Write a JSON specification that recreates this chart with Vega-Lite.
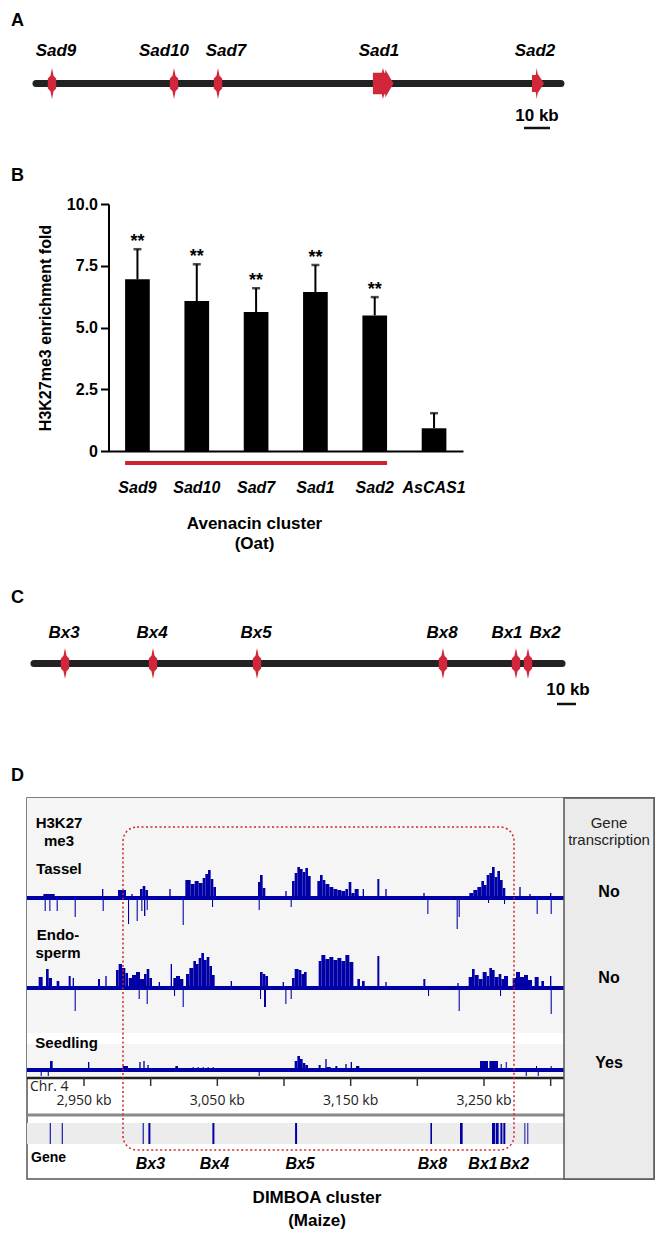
{
  "$schema": "https://vega.github.io/schema/vega-lite/v6.json",
  "padding": {"left": 10, "top": 11, "right": 4, "bottom": 4},
  "background": "white",
  "config": {
    "font": "Liberation Sans",
    "view": {"stroke": null},
    "axis": {"grid": false},
    "title": {"fontSize": 18, "fontWeight": "bold", "anchor": "start", "frame": "group", "dx": -16, "color": "black", "baseline": "top"},
    "text": {"color": "black"}
  },
  "datasets": {
    "oatGenes": [
      {"gene": "Sad9", "pos": 6.15},
      {"gene": "Sad10", "pos": 53.08},
      {"gene": "Sad7", "pos": 70.0},
      {"gene": "Sad1", "pos": 133.46},
      {"gene": "Sad2", "pos": 193.08}
    ],
    "bxGenes": [
      {"gene": "Bx3", "pos": 16.32},
      {"gene": "Bx4", "pos": 62.63},
      {"gene": "Bx5", "pos": 117.37},
      {"gene": "Bx8", "pos": 215.26},
      {"gene": "Bx1", "pos": 253.68},
      {"gene": "Bx2", "pos": 260.0}
    ],
    "enrichment": [
      {"gene": "Sad9", "fold": 6.95, "upper": 8.17, "sig": "**"},
      {"gene": "Sad10", "fold": 6.07, "upper": 7.56, "sig": "**"},
      {"gene": "Sad7", "fold": 5.63, "upper": 6.59, "sig": "**"},
      {"gene": "Sad1", "fold": 6.44, "upper": 7.53, "sig": "**"},
      {"gene": "Sad2", "fold": 5.49, "upper": 6.23, "sig": "**"},
      {"gene": "AsCAS1", "fold": 0.92, "upper": 1.53, "sig": ""}
    ],
    "chrTicks": [
      {"kb": 2950}, {"kb": 3000}, {"kb": 3050}, {"kb": 3100},
      {"kb": 3150}, {"kb": 3200}, {"kb": 3250}, {"kb": 3300}
    ],
    "tassel": [
      {"start": 2919.5, "end": 2928, "signal": 4},
      {"start": 2920.5, "end": 2921.3, "signal": -13},
      {"start": 2924, "end": 2924.8, "signal": -13},
      {"start": 2929.5, "end": 2930.3, "signal": -13},
      {"start": 2943, "end": 2943.8, "signal": -19},
      {"start": 2963.5, "end": 2964.5, "signal": 9},
      {"start": 2964, "end": 2964.8, "signal": -13},
      {"start": 2975.5, "end": 2981.5, "signal": 8},
      {"start": 2983, "end": 2983.8, "signal": -26},
      {"start": 2985.5, "end": 2986.5, "signal": 4},
      {"start": 2989.5, "end": 2990.3, "signal": -23},
      {"start": 2992, "end": 2994, "signal": 9},
      {"start": 2994, "end": 2996, "signal": 12},
      {"start": 2996, "end": 2998, "signal": 8},
      {"start": 2993, "end": 2993.8, "signal": -13},
      {"start": 2995, "end": 2996, "signal": -18},
      {"start": 2997, "end": 2997.8, "signal": -12},
      {"start": 3014, "end": 3015, "signal": 9},
      {"start": 3024, "end": 3024.8, "signal": -27},
      {"start": 3026, "end": 3030, "signal": 18},
      {"start": 3030, "end": 3033, "signal": 14},
      {"start": 3033, "end": 3036, "signal": 17},
      {"start": 3036, "end": 3039, "signal": 15},
      {"start": 3039, "end": 3041, "signal": 20},
      {"start": 3041, "end": 3043, "signal": 24},
      {"start": 3043, "end": 3045, "signal": 28},
      {"start": 3045, "end": 3047, "signal": 19},
      {"start": 3047, "end": 3049, "signal": 11},
      {"start": 3046, "end": 3046.8, "signal": -9},
      {"start": 3080.5, "end": 3082, "signal": 16},
      {"start": 3082, "end": 3084, "signal": 23},
      {"start": 3084, "end": 3086, "signal": 10},
      {"start": 3081, "end": 3081.8, "signal": -12},
      {"start": 3101, "end": 3102, "signal": 7},
      {"start": 3105, "end": 3105.8, "signal": -9},
      {"start": 3106, "end": 3108, "signal": 17},
      {"start": 3108, "end": 3110, "signal": 25},
      {"start": 3110, "end": 3112, "signal": 31},
      {"start": 3112, "end": 3114, "signal": 29},
      {"start": 3114, "end": 3116, "signal": 26},
      {"start": 3116, "end": 3118, "signal": 30},
      {"start": 3118, "end": 3120, "signal": 22},
      {"start": 3125, "end": 3127, "signal": 17},
      {"start": 3127, "end": 3129, "signal": 23},
      {"start": 3129, "end": 3131, "signal": 18},
      {"start": 3131, "end": 3134, "signal": 14},
      {"start": 3134, "end": 3137, "signal": 11},
      {"start": 3137, "end": 3140, "signal": 9},
      {"start": 3140, "end": 3143, "signal": 8},
      {"start": 3143, "end": 3146, "signal": 7},
      {"start": 3146, "end": 3148, "signal": 9},
      {"start": 3148.5, "end": 3150.5, "signal": 16},
      {"start": 3150.5, "end": 3153, "signal": 5},
      {"start": 3153, "end": 3156, "signal": 9},
      {"start": 3159, "end": 3160, "signal": 9},
      {"start": 3170, "end": 3171.5, "signal": 19},
      {"start": 3176, "end": 3177, "signal": 9},
      {"start": 3204.5, "end": 3205.5, "signal": 5},
      {"start": 3207.5, "end": 3208.3, "signal": -16},
      {"start": 3229.5, "end": 3230.3, "signal": -31},
      {"start": 3231, "end": 3231.8, "signal": -19},
      {"start": 3239, "end": 3242, "signal": 5},
      {"start": 3242, "end": 3245, "signal": 8},
      {"start": 3245, "end": 3248, "signal": 11},
      {"start": 3248, "end": 3250, "signal": 17},
      {"start": 3250, "end": 3252, "signal": 13},
      {"start": 3252, "end": 3254, "signal": 23},
      {"start": 3254, "end": 3256, "signal": 25},
      {"start": 3256, "end": 3258, "signal": 31},
      {"start": 3258, "end": 3260, "signal": 21},
      {"start": 3260, "end": 3262, "signal": 27},
      {"start": 3262, "end": 3264, "signal": 18},
      {"start": 3264, "end": 3266, "signal": 10},
      {"start": 3253, "end": 3253.8, "signal": -5},
      {"start": 3265, "end": 3265.8, "signal": -6},
      {"start": 3276.5, "end": 3277.5, "signal": 11},
      {"start": 3284, "end": 3285, "signal": 4},
      {"start": 3289.5, "end": 3290.3, "signal": -16},
      {"start": 3299.5, "end": 3300.5, "signal": 5},
      {"start": 3300, "end": 3300.8, "signal": -16}
    ],
    "endosperm": [
      {"start": 2916, "end": 2919, "signal": 11},
      {"start": 2921.5, "end": 2923.5, "signal": 19},
      {"start": 2923.5, "end": 2926, "signal": 10},
      {"start": 2929.5, "end": 2931.5, "signal": 7},
      {"start": 2938.5, "end": 2940, "signal": 12},
      {"start": 2941.5, "end": 2942.5, "signal": 10},
      {"start": 2960.5, "end": 2962, "signal": 9},
      {"start": 2966, "end": 2967, "signal": 12},
      {"start": 2974, "end": 2976, "signal": 18},
      {"start": 2976, "end": 2978.5, "signal": 24},
      {"start": 2978.5, "end": 2981, "signal": 20},
      {"start": 2981, "end": 2983, "signal": 15},
      {"start": 2983.5, "end": 2986, "signal": 10},
      {"start": 2986, "end": 2989, "signal": 13},
      {"start": 2989, "end": 2992, "signal": 16},
      {"start": 2992, "end": 2995, "signal": 9},
      {"start": 2995, "end": 2997, "signal": 14},
      {"start": 2997, "end": 2999, "signal": 19},
      {"start": 2999, "end": 3001, "signal": 10},
      {"start": 3006, "end": 3007, "signal": 6},
      {"start": 3015, "end": 3016, "signal": 24},
      {"start": 3017, "end": 3019, "signal": 10},
      {"start": 3019, "end": 3022, "signal": 12},
      {"start": 3022, "end": 3024.5, "signal": 9},
      {"start": 3026.5, "end": 3029, "signal": 14},
      {"start": 3029, "end": 3032, "signal": 20},
      {"start": 3032, "end": 3034, "signal": 27},
      {"start": 3034, "end": 3036, "signal": 24},
      {"start": 3036, "end": 3038, "signal": 30},
      {"start": 3038, "end": 3040, "signal": 35},
      {"start": 3040, "end": 3042, "signal": 28},
      {"start": 3042, "end": 3044, "signal": 31},
      {"start": 3044, "end": 3046, "signal": 22},
      {"start": 3046, "end": 3048, "signal": 13},
      {"start": 3060, "end": 3061, "signal": 7},
      {"start": 3082, "end": 3084, "signal": 16},
      {"start": 3084, "end": 3086, "signal": 14},
      {"start": 3086, "end": 3088, "signal": 12},
      {"start": 3099, "end": 3100, "signal": 6},
      {"start": 3106, "end": 3108, "signal": 10},
      {"start": 3108, "end": 3111, "signal": 19},
      {"start": 3111, "end": 3113, "signal": 18},
      {"start": 3113, "end": 3115, "signal": 14},
      {"start": 3115, "end": 3117, "signal": 16},
      {"start": 3126, "end": 3128, "signal": 27},
      {"start": 3128, "end": 3131, "signal": 33},
      {"start": 3131, "end": 3134, "signal": 29},
      {"start": 3134, "end": 3137, "signal": 31},
      {"start": 3137, "end": 3140, "signal": 28},
      {"start": 3140, "end": 3143, "signal": 30},
      {"start": 3143, "end": 3146, "signal": 27},
      {"start": 3146, "end": 3149, "signal": 33},
      {"start": 3149, "end": 3152, "signal": 26},
      {"start": 3155, "end": 3157, "signal": 9},
      {"start": 3158.5, "end": 3160.5, "signal": 7},
      {"start": 3170, "end": 3171.5, "signal": 32},
      {"start": 3176, "end": 3177, "signal": 6},
      {"start": 3204.5, "end": 3206, "signal": 9},
      {"start": 3230, "end": 3231, "signal": 5},
      {"start": 3238.5, "end": 3241, "signal": 11},
      {"start": 3241, "end": 3243, "signal": 19},
      {"start": 3243, "end": 3246, "signal": 13},
      {"start": 3246, "end": 3249, "signal": 9},
      {"start": 3249, "end": 3252, "signal": 16},
      {"start": 3252, "end": 3254, "signal": 12},
      {"start": 3254, "end": 3256, "signal": 20},
      {"start": 3256, "end": 3258, "signal": 18},
      {"start": 3258, "end": 3261, "signal": 11},
      {"start": 3261, "end": 3263, "signal": 14},
      {"start": 3263, "end": 3265, "signal": 9},
      {"start": 3265, "end": 3268, "signal": 12},
      {"start": 3271.5, "end": 3274, "signal": 10},
      {"start": 3274, "end": 3277, "signal": 16},
      {"start": 3277, "end": 3280, "signal": 11},
      {"start": 3280, "end": 3283, "signal": 13},
      {"start": 3283, "end": 3286, "signal": 8},
      {"start": 3288, "end": 3291, "signal": 11},
      {"start": 3293, "end": 3295, "signal": 7},
      {"start": 3299.5, "end": 3300.5, "signal": 12},
      {"start": 2943, "end": 2943.8, "signal": -23},
      {"start": 2991, "end": 2991.8, "signal": -11},
      {"start": 2997, "end": 2997.8, "signal": -16},
      {"start": 3017.5, "end": 3018.3, "signal": -8},
      {"start": 3024, "end": 3024.8, "signal": -19},
      {"start": 3082, "end": 3082.8, "signal": -11},
      {"start": 3085, "end": 3086.5, "signal": -19},
      {"start": 3101, "end": 3101.8, "signal": -16},
      {"start": 3105, "end": 3105.8, "signal": -11},
      {"start": 3208, "end": 3208.8, "signal": -8},
      {"start": 3231, "end": 3231.8, "signal": -23},
      {"start": 3262, "end": 3262.8, "signal": -8},
      {"start": 3300, "end": 3300.8, "signal": -26}
    ],
    "seedling": [
      {"start": 2917.5, "end": 2918.3, "signal": -6},
      {"start": 2922.8, "end": 2923.6, "signal": -6},
      {"start": 2924.5, "end": 2926.5, "signal": 9},
      {"start": 2953, "end": 2954, "signal": 8},
      {"start": 2979, "end": 2983, "signal": 4},
      {"start": 2991.5, "end": 2992.5, "signal": 8},
      {"start": 2994.5, "end": 2995.5, "signal": 9},
      {"start": 2997.5, "end": 2998.5, "signal": 5},
      {"start": 3018.5, "end": 3020.5, "signal": 4},
      {"start": 3031.5, "end": 3032.3, "signal": 3},
      {"start": 3035.2, "end": 3036, "signal": 3},
      {"start": 3039, "end": 3039.8, "signal": 3},
      {"start": 3042.7, "end": 3043.5, "signal": 3},
      {"start": 3046.5, "end": 3047.3, "signal": 3},
      {"start": 3081, "end": 3081.8, "signal": -6},
      {"start": 3108, "end": 3110, "signal": 9},
      {"start": 3110, "end": 3112, "signal": 14},
      {"start": 3112, "end": 3114, "signal": 11},
      {"start": 3114, "end": 3116, "signal": 7},
      {"start": 3116, "end": 3118, "signal": 5},
      {"start": 3126, "end": 3127.5, "signal": 5},
      {"start": 3131, "end": 3132, "signal": 11},
      {"start": 3132, "end": 3135, "signal": 3},
      {"start": 3138.5, "end": 3140, "signal": 4},
      {"start": 3146, "end": 3147, "signal": 6},
      {"start": 3150, "end": 3151, "signal": 8},
      {"start": 3154, "end": 3156.5, "signal": 4},
      {"start": 3247, "end": 3253, "signal": 9},
      {"start": 3254, "end": 3260.5, "signal": 9},
      {"start": 3262.5, "end": 3263.3, "signal": 6},
      {"start": 3266.3, "end": 3267.1, "signal": 8},
      {"start": 3281.3, "end": 3282.1, "signal": -6},
      {"start": 3289, "end": 3289.8, "signal": 4},
      {"start": 3290.3, "end": 3291.1, "signal": -6},
      {"start": 3300, "end": 3300.8, "signal": 4}
    ],
    "maizeGenes": [
      {"track": "Gene", "start": 2924.3, "end": 2925.1, "label": ""},
      {"track": "Gene", "start": 2933.3, "end": 2934.1, "label": ""},
      {"track": "Gene", "start": 2994.0, "end": 2994.8, "label": ""},
      {"track": "Gene", "start": 2998.3, "end": 2999.8, "label": "Bx3"},
      {"track": "Gene", "start": 3046.3, "end": 3047.8, "label": "Bx4"},
      {"track": "Gene", "start": 3108.3, "end": 3109.8, "label": "Bx5"},
      {"track": "Gene", "start": 3209.8, "end": 3211.0, "label": "Bx8"},
      {"track": "Gene", "start": 3232.0, "end": 3234.0, "label": ""},
      {"track": "Gene", "start": 3256.0, "end": 3258.3, "label": "Bx1"},
      {"track": "Gene", "start": 3258.8, "end": 3261.0, "label": ""},
      {"track": "Gene", "start": 3262.3, "end": 3263.8, "label": "Bx2"},
      {"track": "Gene", "start": 3264.5, "end": 3266.0, "label": ""},
      {"track": "Gene", "start": 3280.3, "end": 3281.0, "label": ""},
      {"track": "Gene", "start": 3282.5, "end": 3283.2, "label": ""}
    ],
    "transcription": [
      {"tissue": "Tassel", "transcription": "No"},
      {"tissue": "Endosperm", "transcription": "No"},
      {"tissue": "Seedling", "transcription": "Yes"}
    ]
  },
  "bounds": "flush",
  "spacing": 105,
  "vconcat": [
    {
      "width": 635,
      "height": 31,
      "title": {"text": "A", "offset": 12.5},
      "layer": [
        {
          "data": {"values": [{"pos": 0, "end": 201.9}]},
          "mark": {"type": "rule", "color": "#222222", "strokeWidth": 7, "strokeCap": "round"},
          "encoding": {
            "x": {"field": "pos", "type": "quantitative", "scale": {"domain": [-3.4615, 240.77], "nice": false, "zero": false},
              "axis": {"orient": "bottom", "domain": false, "ticks": false, "labels": false, "title": ["Avenacin cluster", "(Oat)"], "titleX": 261, "titleY": 20.5, "titleBaseline": "top", "titleAlign": "center", "titleFontSize": 17, "titleFontWeight": "bold", "titleColor": "black", "titleLineHeight": 18}},
            "x2": {"field": "end"}
          }
        },
        {
          "data": {"name": "oatGenes"},
          "mark": {"type": "point", "filled": true, "opacity": 1, "color": "#d0273b", "size": 961},
          "encoding": {
            "x": {"field": "pos", "type": "quantitative", "axis": null},
            "shape": {"field": "gene", "type": "nominal", "legend": null,
              "scale": {"domain": ["Sad9", "Sad10", "Sad7", "Sad1", "Sad2"],
                "range": [
                  "M0,-1L0.1,-0.5L0.27,-0.32L0.27,0.32L0.1,0.5L0,1L-0.1,0.5L-0.27,0.32L-0.27,-0.32L-0.1,-0.5Z",
                  "M0,-1L0.1,-0.5L0.27,-0.32L0.27,0.32L0.1,0.5L0,1L-0.1,0.5L-0.27,0.32L-0.27,-0.32L-0.1,-0.5Z",
                  "M0,-1L0.1,-0.5L0.27,-0.32L0.27,0.32L0.1,0.5L0,1L-0.1,0.5L-0.27,0.32L-0.27,-0.32L-0.1,-0.5Z",
                  "M-0.65,-0.7L-0.08,-0.7L0,-1L0.08,-0.7L0.15,-0.7L0.15,-0.9L0.68,0L0.15,0.9L0.15,0.7L0.08,0.7L0,1L-0.08,0.7L-0.65,0.7Z",
                  "M-0.39,-0.55L-0.15,-0.55L-0.08,-1L-0.01,-0.55L0,-0.6L0.39,0L0,0.6L-0.01,0.55L-0.08,1L-0.15,0.55L-0.39,0.55Z"
                ]}}
          }
        },
        {
          "data": {"name": "oatGenes"},
          "mark": {"type": "text", "fontSize": 17, "fontWeight": "bold", "fontStyle": "italic", "dy": -32.5,
            "dx": {"expr": "datum.gene === 'Sad9' ? 4 : datum.gene === 'Sad10' ? -10 : datum.gene === 'Sad7' ? 8 : datum.gene === 'Sad1' ? -4 : -3"}},
          "encoding": {
            "x": {"field": "pos", "type": "quantitative", "axis": null},
            "text": {"field": "gene"}
          }
        },
        {
          "data": {"values": [{"pos": 187.69, "end": 197.69, "label": "10 kb"}]},
          "layer": [
            {
              "mark": {"type": "rule", "color": "#111111", "strokeWidth": 2.5, "yOffset": 44.5},
              "encoding": {"x": {"field": "pos", "type": "quantitative", "axis": null}, "x2": {"field": "end"}}
            },
            {
              "mark": {"type": "text", "fontSize": 17, "fontWeight": "bold", "dx": 13, "dy": 32.5},
              "encoding": {"x": {"field": "pos", "type": "quantitative", "axis": null}, "text": {"field": "label"}}
            }
          ]
        }
      ]
    },
    {
      "bounds": "flush",
      "spacing": 197,
      "vconcat": [
        {
          "width": 635,
          "height": 247,
          "title": {"text": "B", "offset": 11},
          "data": {"name": "enrichment"},
          "encoding": {
            "x": {"field": "gene", "type": "nominal", "sort": null,
              "scale": {"domain": ["Sad9", "Sad10", "Sad7", "Sad1", "Sad2", "AsCAS1"], "range": [81.5, 436], "paddingInner": 0.584, "paddingOuter": 0.28},
              "axis": {"orient": "bottom", "domainColor": "black", "domainWidth": 2, "ticks": false, "tickSize": 0, "labelAngle": 0, "labelPadding": 28, "labelFontSize": 16, "labelFontWeight": "bold", "labelFontStyle": "italic", "labelColor": "black",
                "title": ["Avenacin cluster", "(Oat)"], "titleX": 227, "titleY": 64, "titleBaseline": "top", "titleAlign": "center", "titleFontSize": 17, "titleFontWeight": "bold", "titleColor": "black", "titleLineHeight": 20}}
          },
          "layer": [
            {
              "mark": {"type": "bar", "color": "black"},
              "encoding": {
                "y": {"field": "fold", "type": "quantitative", "scale": {"domain": [0, 10], "nice": false},
                  "axis": {"orient": "left", "offset": -81.5, "values": [0, 2.5, 5, 7.5, 10], "labelExpr": "datum.value == 0 ? '0' : format(datum.value, '.1f')", "domainColor": "black", "domainWidth": 2, "tickColor": "black", "tickWidth": 2, "tickSize": 8, "labelFontSize": 16, "labelFontWeight": "bold", "labelColor": "black", "labelPadding": 3,
                    "title": "H3K27me3 enrichment fold", "titleFontSize": 16, "titleFontWeight": "bold", "titleColor": "black", "titlePadding": 13}}
              }
            },
            {
              "mark": {"type": "rule", "color": "black", "strokeWidth": 2},
              "encoding": {"y": {"field": "fold", "type": "quantitative"}, "y2": {"field": "upper"}}
            },
            {
              "mark": {"type": "tick", "orient": "horizontal", "color": "black", "size": 8, "thickness": 2.5},
              "encoding": {"y": {"field": "upper", "type": "quantitative"}}
            },
            {
              "mark": {"type": "text", "fontSize": 18, "fontWeight": "bold", "baseline": "alphabetic", "dy": -2},
              "encoding": {"y": {"field": "upper", "type": "quantitative"}, "text": {"field": "sig"}}
            },
            {
              "data": {"values": [{"from": "Sad9", "to": "Sad2"}]},
              "mark": {"type": "rule", "color": "#c9252f", "strokeWidth": 4, "yOffset": 12},
              "encoding": {
                "x": {"field": "from", "type": "nominal", "bandPosition": 0},
                "x2": {"field": "to", "bandPosition": 1},
                "y": {"datum": 0, "type": "quantitative"}
              }
            }
          ]
        },
        {
          "bounds": "flush",
          "spacing": 119,
          "vconcat": [
            {
              "width": 635,
              "height": 31,
              "title": {"text": "C", "offset": 17.5},
              "layer": [
                {
                  "data": {"values": [{"pos": 0, "end": 277.9}]},
                  "mark": {"type": "rule", "color": "#222222", "strokeWidth": 7, "strokeCap": "round"},
                  "encoding": {
                    "x": {"field": "pos", "type": "quantitative", "scale": {"domain": [-3.684, 330.53], "nice": false, "zero": false},
                      "axis": {"orient": "bottom", "domain": false, "ticks": false, "labels": false, "title": ["DIMBOA cluster", "(Maize)"], "titleX": 290, "titleY": 16.5, "titleBaseline": "top", "titleAlign": "center", "titleFontSize": 17, "titleFontWeight": "bold", "titleColor": "black", "titleLineHeight": 22}},
                    "x2": {"field": "end"}
                  }
                },
                {
                  "data": {"name": "bxGenes"},
                  "mark": {"type": "point", "filled": true, "opacity": 1, "color": "#d0273b", "size": 961,
                    "shape": "M0,-1L0.1,-0.5L0.27,-0.32L0.27,0.32L0.1,0.5L0,1L-0.1,0.5L-0.27,0.32L-0.27,-0.32L-0.1,-0.5Z"},
                  "encoding": {"x": {"field": "pos", "type": "quantitative", "axis": null}}
                },
                {
                  "data": {"name": "bxGenes"},
                  "mark": {"type": "text", "fontSize": 17, "fontWeight": "bold", "fontStyle": "italic", "dy": -30.5,
                    "dx": {"expr": "datum.gene === 'Bx1' ? -9 : datum.gene === 'Bx2' ? 17 : -1"}},
                  "encoding": {"x": {"field": "pos", "type": "quantitative", "axis": null}, "text": {"field": "gene"}}
                },
                {
                  "data": {"values": [{"pos": 275.26, "end": 285.26, "label": "10 kb"}]},
                  "layer": [
                    {
                      "mark": {"type": "rule", "color": "#111111", "strokeWidth": 2.5, "yOffset": 40.5},
                      "encoding": {"x": {"field": "pos", "type": "quantitative", "axis": null}, "x2": {"field": "end"}}
                    },
                    {
                      "mark": {"type": "text", "fontSize": 17, "fontWeight": "bold", "dx": 11, "dy": 26.5},
                      "encoding": {"x": {"field": "pos", "type": "quantitative", "axis": null}, "text": {"field": "label"}}
                    }
                  ]
                }
              ]
            },
            {
              "width": 627,
              "height": 381,
              "title": {"text": "D", "offset": 12},
              "view": {"fill": "white", "stroke": "#555555", "strokeWidth": 1.5},
              "layer": [
                {
                  "layer": [
                    {
                      "layer": [
                        {
                          "data": {"values": [{}]},
                          "mark": {"type": "rect", "color": "#f5f5f5"},
                          "encoding": {"y": {"datum": 100, "type": "quantitative", "scale": {"domain": [-281, 100], "nice": false, "zero": false}, "axis": null}, "y2": {"datum": -180}}
                        },
                        {
                          "data": {"name": "tassel"},
                          "mark": {"type": "rect", "color": "#0000a6"},
                          "encoding": {
                            "x": {"field": "start", "type": "quantitative", "scale": {"domain": [2907.25, 3310], "range": [0, 537], "nice": false, "zero": false}, "axis": null},
                            "x2": {"field": "end"},
                            "y": {"field": "signal", "type": "quantitative", "axis": null},
                            "y2": {"datum": 0}
                          }
                        },
                        {
                          "data": {"values": [{}]},
                          "mark": {"type": "rule", "color": "#0000a6", "strokeWidth": 4},
                          "encoding": {"y": {"datum": 0, "type": "quantitative", "axis": null}}
                        },
                        {
                          "data": {"values": [{}]},
                          "mark": {"type": "text", "text": "H3K27", "fontSize": 15, "fontWeight": "bold", "align": "center"},
                          "encoding": {"x": {"datum": 2931.25, "type": "quantitative", "axis": null}, "y": {"datum": 75, "type": "quantitative", "axis": null}}
                        },
                        {
                          "data": {"values": [{}]},
                          "mark": {"type": "text", "text": "me3", "fontSize": 15, "fontWeight": "bold", "align": "center"},
                          "encoding": {"x": {"datum": 2931.25, "type": "quantitative", "axis": null}, "y": {"datum": 57, "type": "quantitative", "axis": null}}
                        },
                        {
                          "data": {"values": [{}]},
                          "mark": {"type": "text", "text": "Tassel", "fontSize": 15, "fontWeight": "bold", "align": "center"},
                          "encoding": {"x": {"datum": 2931.25, "type": "quantitative", "axis": null}, "y": {"datum": 29, "type": "quantitative", "axis": null}}
                        }
                      ]
                    },
                    {
                      "layer": [
                        {
                          "data": {"name": "endosperm"},
                          "mark": {"type": "rect", "color": "#0000a6"},
                          "encoding": {
                            "x": {"field": "start", "type": "quantitative", "axis": null},
                            "x2": {"field": "end"},
                            "y": {"field": "signal", "type": "quantitative", "scale": {"domain": [-191, 190], "nice": false, "zero": false}, "axis": null},
                            "y2": {"datum": 0}
                          }
                        },
                        {
                          "data": {"values": [{}]},
                          "mark": {"type": "rule", "color": "#0000a6", "strokeWidth": 4},
                          "encoding": {"y": {"datum": 0, "type": "quantitative", "axis": null}}
                        },
                        {
                          "data": {"values": [{}]},
                          "mark": {"type": "text", "text": "Endo-", "fontSize": 15, "fontWeight": "bold", "align": "center"},
                          "encoding": {"x": {"datum": 2930.5, "type": "quantitative", "axis": null}, "y": {"datum": 53, "type": "quantitative", "axis": null}}
                        },
                        {
                          "data": {"values": [{}]},
                          "mark": {"type": "text", "text": "sperm", "fontSize": 15, "fontWeight": "bold", "align": "center"},
                          "encoding": {"x": {"datum": 2930.5, "type": "quantitative", "axis": null}, "y": {"datum": 35, "type": "quantitative", "axis": null}}
                        }
                      ]
                    },
                    {
                      "layer": [
                        {
                          "data": {"values": [{}]},
                          "mark": {"type": "rect", "color": "white"},
                          "encoding": {"y": {"datum": 37, "type": "quantitative", "scale": {"domain": [-109, 272], "nice": false, "zero": false}, "axis": null}, "y2": {"datum": 26}}
                        },
                        {
                          "data": {"name": "seedling"},
                          "mark": {"type": "rect", "color": "#0000a6"},
                          "encoding": {
                            "x": {"field": "start", "type": "quantitative", "axis": null},
                            "x2": {"field": "end"},
                            "y": {"field": "signal", "type": "quantitative", "axis": null},
                            "y2": {"datum": 0}
                          }
                        },
                        {
                          "data": {"values": [{}]},
                          "mark": {"type": "rule", "color": "#0000a6", "strokeWidth": 4},
                          "encoding": {"y": {"datum": 0, "type": "quantitative", "axis": null}}
                        },
                        {
                          "data": {"values": [{}]},
                          "mark": {"type": "text", "text": "Seedling", "fontSize": 15, "fontWeight": "bold", "align": "center"},
                          "encoding": {"x": {"datum": 2936.9, "type": "quantitative", "axis": null}, "y": {"datum": 27, "type": "quantitative", "axis": null}}
                        },
                        {
                          "data": {"values": [{}]},
                          "mark": {"type": "rule", "color": "#222222", "strokeWidth": 2.5},
                          "encoding": {"y": {"datum": -8, "type": "quantitative", "axis": null}}
                        },
                        {
                          "data": {"name": "chrTicks"},
                          "mark": {"type": "rule", "color": "#333333", "strokeWidth": 1.5},
                          "encoding": {
                            "x": {"field": "kb", "type": "quantitative", "axis": null},
                            "y": {"datum": -8, "type": "quantitative", "axis": null},
                            "y2": {"datum": -16}
                          }
                        },
                        {
                          "data": {"name": "chrTicks"},
                          "transform": [{"filter": "datum.kb % 100 == 50"}],
                          "mark": {"type": "text", "font": "Open Sans", "fontSize": 14, "color": "#222222", "text": {"expr": "format(datum.kb, ',') + ' kb'"}},
                          "encoding": {
                            "x": {"field": "kb", "type": "quantitative", "axis": null},
                            "y": {"datum": -31, "type": "quantitative", "axis": null}
                          }
                        },
                        {
                          "data": {"values": [{}]},
                          "mark": {"type": "text", "text": "Chr. 4", "align": "left", "font": "Open Sans", "fontSize": 14, "color": "#222222"},
                          "encoding": {"x": {"datum": 2909.5, "type": "quantitative", "axis": null}, "y": {"datum": -17, "type": "quantitative", "axis": null}}
                        }
                      ]
                    },
                    {
                      "layer": [
                        {
                          "data": {"values": [{"track": "Gene"}]},
                          "mark": {"type": "rect", "color": "#ececec"},
                          "encoding": {"y": {"field": "track", "type": "nominal", "scale": {"type": "band", "domain": ["Gene"], "paddingInner": 0.8833, "paddingOuter": 1, "align": 0.9028}, "axis": null}}
                        },
                        {
                          "data": {"values": [{"track": "Gene"}]},
                          "mark": {"type": "rule", "color": "#8a8a8a", "strokeWidth": 3, "yOffset": -8},
                          "encoding": {"y": {"field": "track", "type": "nominal", "bandPosition": 0, "axis": null}}
                        },
                        {
                          "data": {"name": "maizeGenes"},
                          "mark": {"type": "rect", "color": "#0000a6"},
                          "encoding": {
                            "x": {"field": "start", "type": "quantitative", "axis": null},
                            "x2": {"field": "end"},
                            "y": {"field": "track", "type": "nominal", "axis": null}
                          }
                        },
                        {
                          "data": {"name": "maizeGenes"},
                          "transform": [{"filter": "datum.label != ''"}],
                          "mark": {"type": "text", "fontSize": 16, "fontWeight": "bold", "fontStyle": "italic", "dy": 30.5,
                            "dx": {"expr": "datum.label === 'Bx1' ? -9 : datum.label === 'Bx2' ? 14 : datum.label === 'Bx5' ? 5 : 2"}},
                          "encoding": {
                            "x": {"field": "start", "type": "quantitative", "axis": null},
                            "y": {"field": "track", "type": "nominal", "axis": null},
                            "text": {"field": "label"}
                          }
                        },
                        {
                          "data": {"values": [{"track": "Gene"}]},
                          "mark": {"type": "text", "text": "Gene", "align": "left", "fontSize": 14, "fontWeight": "bold", "dy": 24.5},
                          "encoding": {
                            "x": {"datum": 2910.25, "type": "quantitative", "axis": null},
                            "y": {"field": "track", "type": "nominal", "axis": null}
                          }
                        },
                        {
                          "data": {"values": [{"track": "Gene"}]},
                          "mark": {"type": "text", "text": ["DIMBOA cluster", "(Maize)"], "lineHeight": 23, "fontSize": 17, "fontWeight": "bold", "baseline": "top", "align": "center", "dy": 56},
                          "encoding": {
                            "x": {"datum": 3124.75, "type": "quantitative", "axis": null},
                            "y": {"field": "track", "type": "nominal", "axis": null}
                          }
                        }
                      ]
                    },
                    {
                      "data": {"values": [{"start": 2979.25, "end": 3272.5}]},
                      "mark": {"type": "rect", "filled": false, "color": "#d2232a", "strokeWidth": 1.5, "strokeDash": [2, 2.5], "cornerRadius": 14},
                      "encoding": {
                        "x": {"field": "start", "type": "quantitative", "axis": null},
                        "x2": {"field": "end"},
                        "y": {"datum": 0, "type": "quantitative", "scale": {"domain": [-0.0898, 1.0898], "nice": false, "zero": false}, "axis": null},
                        "y2": {"datum": 1}
                      }
                    }
                  ],
                  "resolve": {"scale": {"y": "independent"}}
                },
                {
                  "layer": [
                    {
                      "data": {"values": [{"column": "transcription"}]},
                      "mark": {"type": "rect", "color": "#ebebeb", "stroke": "#555555", "strokeWidth": 1.5},
                      "encoding": {
                        "x": {"field": "column", "type": "nominal",
                          "scale": {"domain": ["transcription"], "range": [537, 627], "paddingInner": 0, "paddingOuter": 0}, "axis": null}
                      }
                    },
                    {
                      "layer": [
                        {
                          "data": {"name": "transcription"},
                          "mark": {"type": "text", "fontSize": 16, "fontWeight": "bold"},
                          "encoding": {
                            "x": {"datum": "transcription", "type": "nominal", "axis": null},
                            "y": {"field": "tissue", "type": "nominal", "sort": ["Tassel", "Endosperm", "Seedling"], "scale": {"type": "band", "paddingInner": 0.544, "paddingOuter": 1, "align": 0.4357}, "axis": null},
                            "text": {"field": "transcription"}
                          }
                        }
                      ]
                    },
                    {
                      "data": {"values": [{"header": "Gene transcription"}]},
                      "mark": {"type": "text", "text": ["Gene", "transcription"], "lineHeight": 17, "fontSize": 15, "color": "#222222", "baseline": "middle"},
                      "encoding": {
                        "x": {"datum": "transcription", "type": "nominal", "axis": null},
                        "y": {"field": "header", "type": "nominal", "scale": {"type": "band", "paddingInner": 0.8833, "paddingOuter": 1, "align": 0.0403}, "axis": null}
                      }
                    }
                  ],
                  "resolve": {"scale": {"y": "independent"}}
                }
              ],
              "resolve": {"scale": {"x": "independent", "y": "independent"}}
            }
          ]
        }
      ]
    }
  ]
}
